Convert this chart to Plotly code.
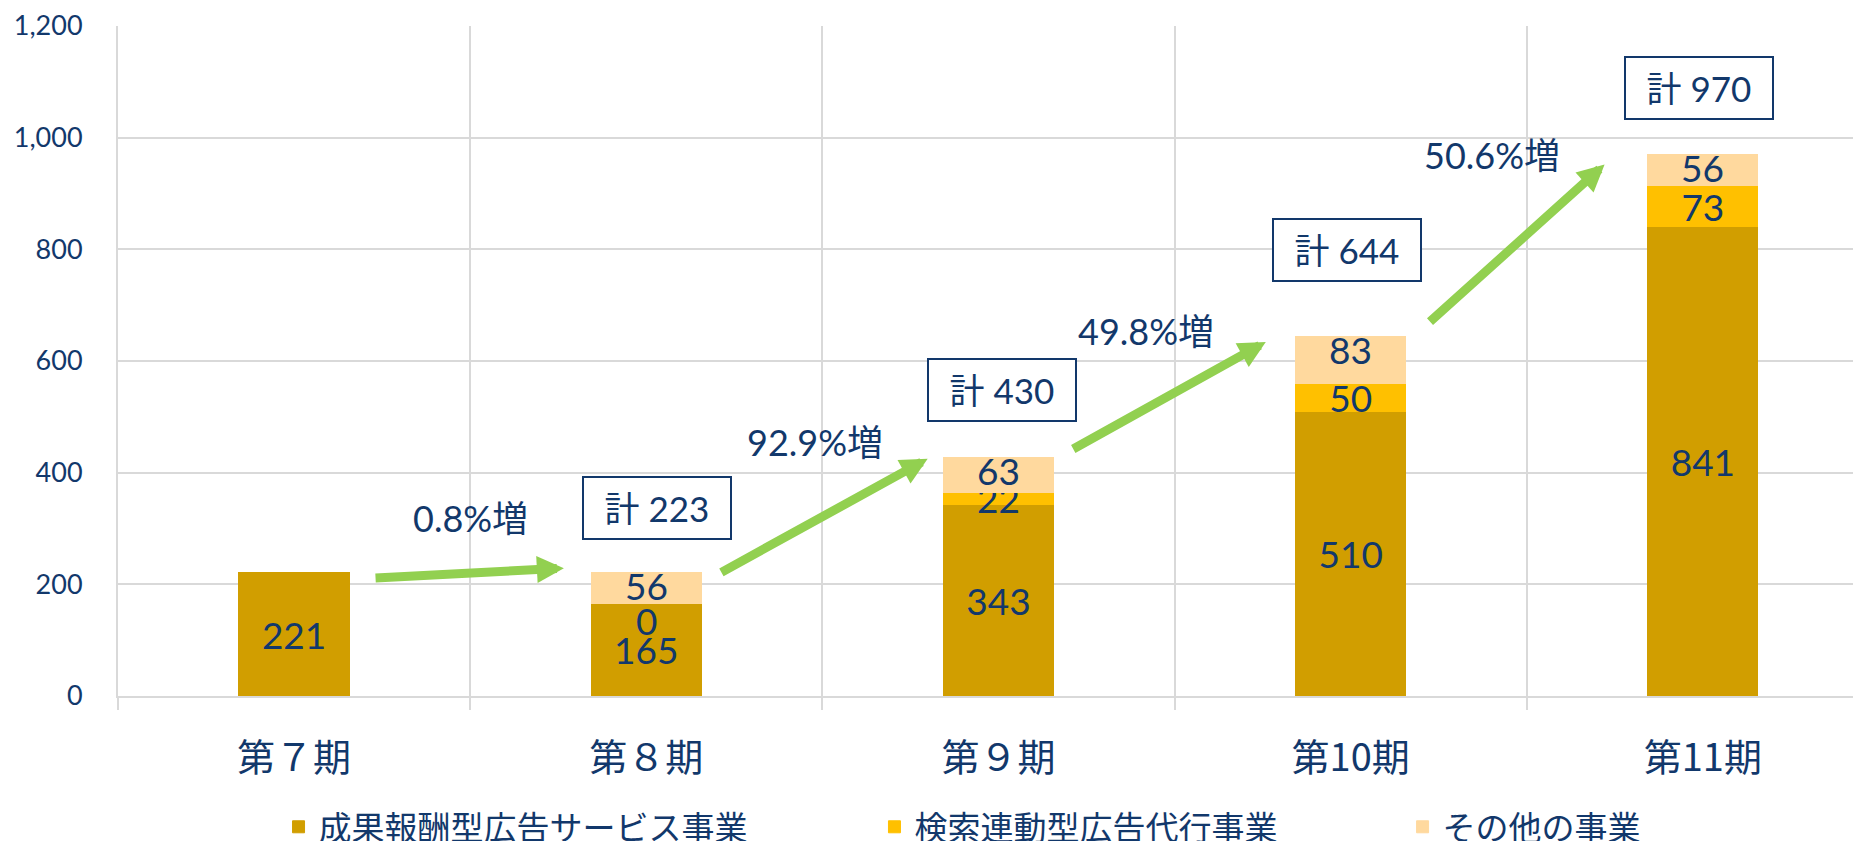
import plotly.graph_objects as go

# ---- data ----
categories = ["第７期", "第８期", "第９期", "第10期", "第11期"]
performance_ads = [221, 165, 343, 510, 841]      # 成果報酬型広告サービス事業
search_ads = [None, 0, 22, 50, 73]               # 検索連動型広告代行事業
other_business = [None, 56, 63, 83, 56]          # その他の事業
totals = [None, 223, 430, 644, 970]
growth_labels = [None, "0.8%増", "92.9%増", "49.8%増", "50.6%増"]
series_names = ["成果報酬型広告サービス事業", "検索連動型広告代行事業", "その他の事業"]
y_ticks = [0, 200, 400, 600, 800, 1000, 1200]

# ---- style / layout positions ----
NAVY = "#12386B"
GRID = "#D9D9D9"
GREEN = "#92D050"
COLORS = ["#D19E00", "#FFC000", "#FFD99E"]
FONT = "Lato, 'Noto Sans CJK JP', sans-serif"
CJK = "'Noto Sans CJK JP', Lato, sans-serif"

# the page body adds an 8px offset; the figure is sized to fill the window
W, H = 1853, 833

total_box_pos = {1: (1.03, 336), 2: (2.01, 548), 3: (2.99, 799), 4: (3.99, 1089)}
growth_pos = {1: (0.50, 319), 2: (1.48, 455), 3: (2.42, 653), 4: (3.40, 969)}
arrow_pos = {1: ((0.227, 211), (0.766, 229)),
             2: ((1.209, 220), (1.799, 425)),
             3: ((2.208, 441), (2.759, 634)),
             4: ((3.221, 668), (3.721, 952))}
legend_x = [0.146, 0.4676, 0.7526]

fig = go.Figure()
all_series = [performance_ads, search_ads, other_business]
text_pos = ["inside", "inside", "none"]   # top segment labels are drawn as annotations
for k, (name, vals) in enumerate(zip(series_names, all_series)):
    fig.add_trace(go.Bar(
        x=categories, y=vals, name=name,
        marker=dict(color=COLORS[k], line=dict(color=COLORS[k], width=1)),
        width=0.313,
        text=["" if v is None else str(v) for v in vals],
        textposition=text_pos[k], insidetextanchor="middle", textangle=0,
        constraintext="none",
        textfont=dict(color=NAVY, size=37, family=FONT),
        legend="legend" if k == 0 else f"legend{k+1}",
        hoverinfo="skip",
    ))

annotations = []
label_font = dict(color=NAVY, size=37, family=FONT)
# labels for zero-height segments (plotly does not draw text inside a 0-height bar)
for i, v in enumerate(search_ads):
    if v == 0:
        annotations.append(dict(x=i, y=performance_ads[i], xref="x", yref="y",
                                text=str(v), showarrow=False, yanchor="middle",
                                yshift=-17, font=label_font))
# labels of the top ("その他") segments, placed just under the top of each stack
for i, v in enumerate(other_business):
    if v is None:
        continue
    top = performance_ads[i] + (search_ads[i] or 0) + v
    annotations.append(dict(x=i, y=top, xref="x", yref="y", text=str(v),
                            showarrow=False, yanchor="middle", yshift=-13,
                            font=label_font))
# total boxes
for i, t in enumerate(totals):
    if t is None:
        continue
    bx, by = total_box_pos[i]
    annotations.append(dict(x=bx, y=by, xref="x", yref="y", text=f"計 {t}",
                            showarrow=False, bordercolor=NAVY, borderwidth=2,
                            borderpad=3, bgcolor="white", width=140, height=54,
                            font=dict(color=NAVY, size=35, family=FONT)))
# growth labels and arrows
for i, g in enumerate(growth_labels):
    if g is None:
        continue
    gx, gy = growth_pos[i]
    annotations.append(dict(x=gx, y=gy, xref="x", yref="y", text=g, showarrow=False,
                            font=dict(color=NAVY, size=36, family=FONT)))
    (sx, sy), (ex, ey) = arrow_pos[i]
    annotations.append(dict(x=ex, y=ey, ax=sx, ay=sy, xref="x", yref="y",
                            axref="x", ayref="y", text="", showarrow=True,
                            arrowhead=2, arrowsize=0.6, arrowwidth=9,
                            arrowcolor=GREEN, standoff=0))

legend_common = dict(orientation="h", xref="container", yref="container",
                     xanchor="left", yanchor="middle", y=0.017,
                     font=dict(color=NAVY, size=33, family=CJK),
                     bgcolor="rgba(0,0,0,0)", itemwidth=30)

fig.update_layout(
    width=W, height=H,
    margin=dict(l=110, r=0, t=16, b=145),
    barmode="stack",
    plot_bgcolor="white", paper_bgcolor="white",
    showlegend=True,
    legend=dict(x=legend_x[0], **legend_common),
    legend2=dict(x=legend_x[1], **legend_common),
    legend3=dict(x=legend_x[2], **legend_common),
    annotations=annotations,
    xaxis=dict(type="category", range=[-0.5, 4.449], tickson="boundaries",
               ticks="outside", ticklen=12, tickwidth=2, tickcolor=GRID,
               showgrid=True, gridcolor=GRID, gridwidth=2,
               showline=True, linecolor=GRID, linewidth=2,
               tickfont=dict(color=NAVY, size=38, family=CJK),
               ticklabelstandoff=27, fixedrange=True),
    yaxis=dict(range=[0, 1200], tickvals=y_ticks, tickformat=",d",
               showgrid=True, gridcolor=GRID, gridwidth=2,
               showline=True, linecolor=GRID, linewidth=2, zeroline=False,
               ticks="", ticklabelstandoff=28, ticklabeloverflow="allow",
               tickfont=dict(color=NAVY, size=27, family=FONT), fixedrange=True),
)

fig.write_html("out.html")
